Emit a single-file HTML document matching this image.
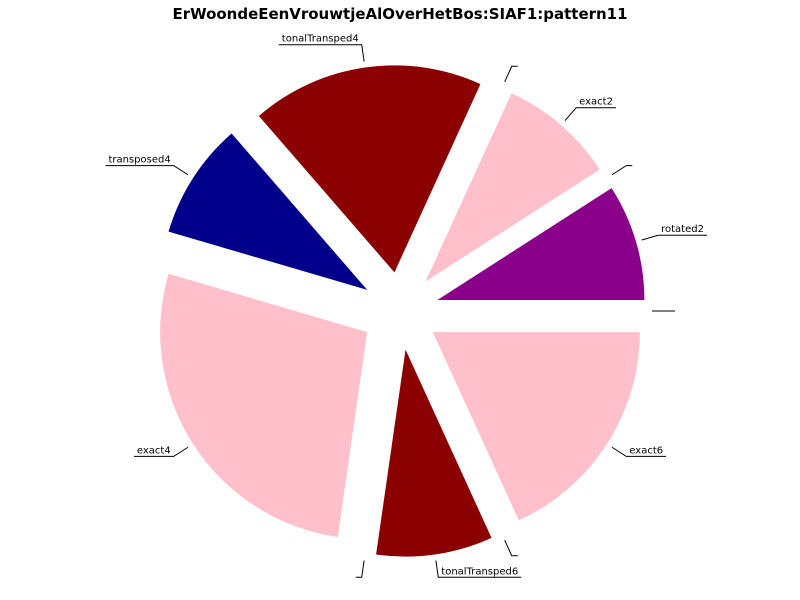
<!DOCTYPE html>
<html><head><meta charset="utf-8"><style>
html,body{margin:0;padding:0;background:#fff;}
svg{display:block;font-family:"DejaVu Sans","Liberation Sans",sans-serif;}
</style></head><body>
<svg id="chart" width="800" height="600" viewBox="0 0 800 600" xmlns="http://www.w3.org/2000/svg">
<text x="400" y="19" text-anchor="middle" font-weight="bold" font-size="15" textLength="455" lengthAdjust="spacingAndGlyphs">ErWoondeEenVrouwtjeAlOverHetBos:SIAF1:pattern11</text>
<g id="slices"></g>
<g id="labels"></g>
</svg>
<script>
const labels = ["rotated2","","exact2","","tonalTransped4","transposed4","exact4","","tonalTransped6","","exact6",""];
const values = [1,0,1,0,2,1,3,0,1,0,2,0];
const colors = ["#8b008b","#ffc0cb","#ffc0cb","#ffc0cb","#8b0000","#00008b","#ffc0cb","#ffc0cb","#8b0000","#ffc0cb","#ffc0cb","#ffc0cb"];

const NS="http://www.w3.org/2000/svg";
const cx=400, cy=311, R=207, EXP=39;
const total=values.reduce((a,b)=>a+b,0);
const gS=document.getElementById('slices'), gL=document.getElementById('labels');
let a0=0;
function pt(x,y,r,a){return [x+r*Math.cos(a), y-r*Math.sin(a)];}
values.forEach((v,i)=>{
  const a1=a0+v/total*2*Math.PI;
  const mid=(a0+a1)/2;
  const [ox,oy]=pt(cx,cy,EXP,mid);
  if(v>0){
    const [x0,y0]=pt(ox,oy,R,a0),[x1,y1]=pt(ox,oy,R,a1);
    const large=(a1-a0)>Math.PI?1:0;
    const p=document.createElementNS(NS,'path');
    p.setAttribute('d',`M${ox},${oy} L${x0},${y0} A${R},${R} 0 ${large} 0 ${x1},${y1} Z`);
    p.setAttribute('fill',colors[i]);
    
    
    gS.appendChild(p);
  }
  // label
  const [ax,ay]=pt(ox,oy,R+6,mid),[bx,by]=pt(ox,oy,R+23,mid);
  const right=Math.cos(mid)>=0;
  const g=document.createElementNS(NS,'g');
  
  
  const t=document.createElementNS(NS,'text');
  t.textContent=labels[i];
  t.setAttribute('font-size','10');
  t.setAttribute('y',by-3);
  g.appendChild(t);
  gL.appendChild(g);
  const w=labels[i]?t.getComputedTextLength():0;
  const ex=right?bx+w+6:bx-w-6;
  t.setAttribute('x',right?bx+3:bx-w-3);
  const pl=document.createElementNS(NS,'polyline');
  pl.setAttribute('points',`${ax},${ay} ${bx},${by} ${ex},${by}`);
  pl.setAttribute('fill','none');
  pl.setAttribute('stroke','#000');
  pl.setAttribute('stroke-width','1');
  g.appendChild(pl);
  a0=a1;
});
</script>
</body></html>
